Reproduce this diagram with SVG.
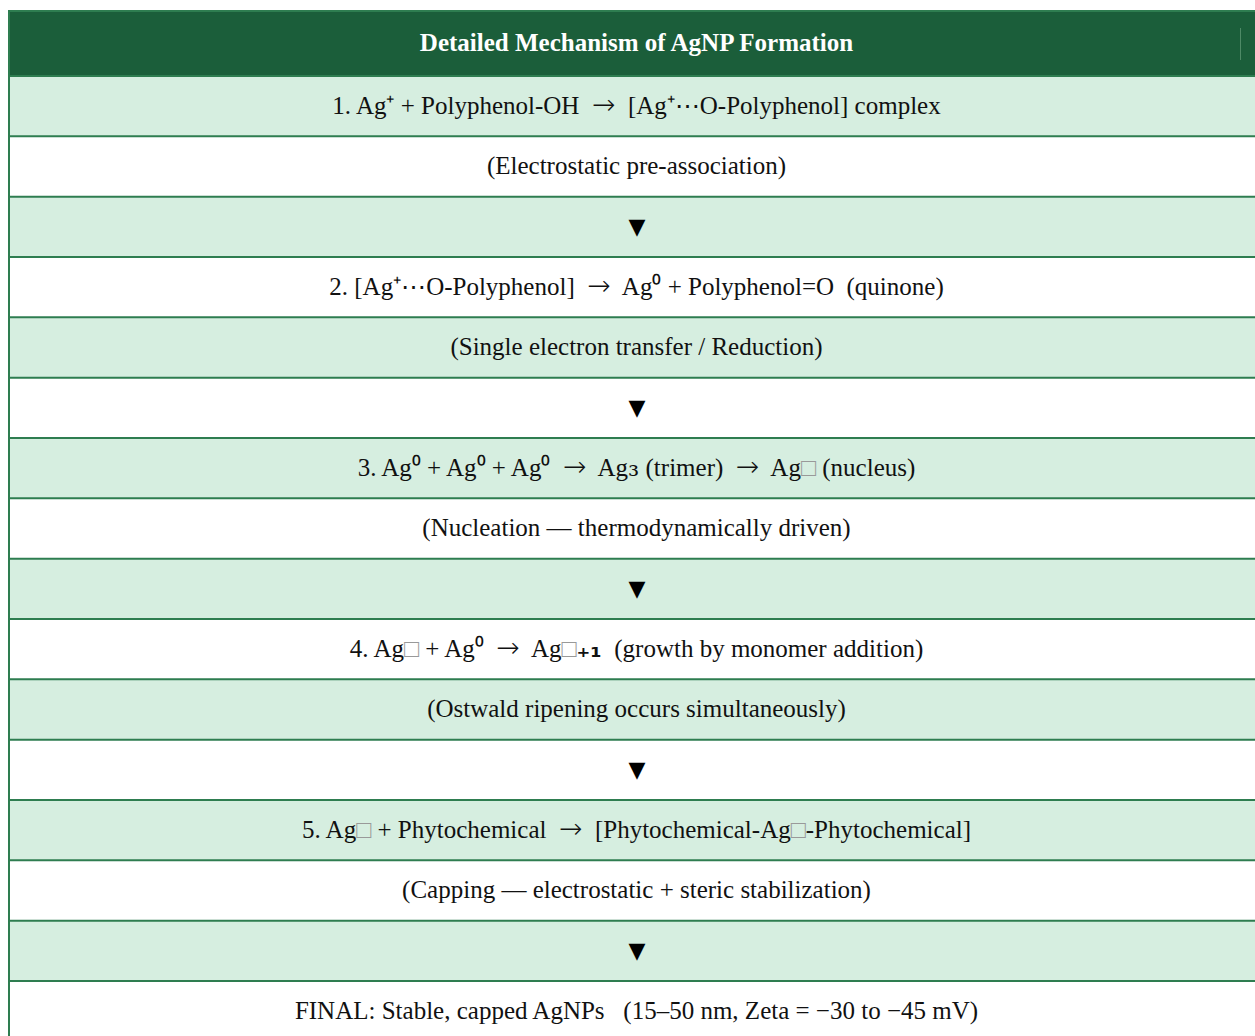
<svg xmlns="http://www.w3.org/2000/svg" width="1255" height="1036" viewBox="0 0 1255 1036">
<style>
.hdr{fill:#1B5E3A}
.g{fill:#D6EEE0}
.w{fill:#FFFFFF}
.ln{stroke:#2E7D50;stroke-width:2;fill:none}
.t{font-family:"Liberation Serif","Times New Roman",serif;font-size:25px;fill:#111;text-anchor:middle;white-space:pre}
.ht{font-family:"Liberation Serif","Times New Roman",serif;font-size:25px;font-weight:bold;fill:#FFFFFF;text-anchor:middle}
.tri{font-family:"DejaVu Sans",sans-serif;font-size:22px;fill:#000;text-anchor:middle}
.tofu{fill:#999}
.ar{font-family:"DejaVu Sans",sans-serif;font-size:28px;font-weight:300}
.sub{font-family:"DejaVu Serif",serif;font-size:28px}
.subb{font-family:"DejaVu Sans",sans-serif;font-size:26px;font-weight:bold}
</style>
<rect x="0" y="0" width="1255" height="1036" fill="#FFFFFF"/>
<g id="header">
<rect class="hdr" x="9" y="11" width="1246" height="65"/>
<line x1="1240.5" y1="28" x2="1240.5" y2="60" stroke="#4E8A66" stroke-width="1"/>
<text class="ht" x="636.5" y="51">Detailed Mechanism of AgNP Formation</text>
</g>
<g id="row1">
<rect class="g" x="9" y="76" width="1246" height="60.3"/>
<text class="t" x="636.5" y="114">1. Ag⁺ + Polyphenol-OH  <tspan class="ar">→</tspan>  [Ag⁺⋯O-Polyphenol] complex</text>
</g>
<g id="row2">
<rect class="w" x="9" y="136.3" width="1246" height="60.3"/>
<text class="t" x="636.5" y="174">(Electrostatic pre-association)</text>
</g>
<g id="row3">
<rect class="g" x="9" y="196.7" width="1246" height="60.3"/>
<text class="tri" x="637" y="234">▼</text>
</g>
<g id="row4">
<rect class="w" x="9" y="257" width="1246" height="60.3"/>
<text class="t" x="636.5" y="294.5">2. [Ag⁺⋯O-Polyphenol]  <tspan class="ar">→</tspan>  Ag⁰ + Polyphenol=O  (quinone)</text>
</g>
<g id="row5">
<rect class="g" x="9" y="317.3" width="1246" height="60.3"/>
<text class="t" x="636.5" y="355">(Single electron transfer / Reduction)</text>
</g>
<g id="row6">
<rect class="w" x="9" y="377.7" width="1246" height="60.3"/>
<text class="tri" x="637" y="415">▼</text>
</g>
<g id="row7">
<rect class="g" x="9" y="438" width="1246" height="60.3"/>
<text class="t" x="636.5" y="475.5">3. Ag⁰ + Ag⁰ + Ag⁰  <tspan class="ar">→</tspan>  Ag<tspan class="sub">₃</tspan> (trimer)  <tspan class="ar">→</tspan>  Ag<tspan class="tofu">□</tspan> (nucleus)</text>
</g>
<g id="row8">
<rect class="w" x="9" y="498.3" width="1246" height="60.3"/>
<text class="t" x="636.5" y="536">(Nucleation — thermodynamically driven)</text>
</g>
<g id="row9">
<rect class="g" x="9" y="558.7" width="1246" height="60.3"/>
<text class="tri" x="637" y="596">▼</text>
</g>
<g id="row10">
<rect class="w" x="9" y="619" width="1246" height="60.3"/>
<text class="t" x="636.5" y="656.5">4. Ag<tspan class="tofu">□</tspan> + Ag⁰  <tspan class="ar">→</tspan>  Ag<tspan class="tofu">□</tspan><tspan class="subb">₊₁</tspan>  (growth by monomer addition)</text>
</g>
<g id="row11">
<rect class="g" x="9" y="679.3" width="1246" height="60.3"/>
<text class="t" x="636.5" y="717">(Ostwald ripening occurs simultaneously)</text>
</g>
<g id="row12">
<rect class="w" x="9" y="739.7" width="1246" height="60.3"/>
<text class="tri" x="637" y="777">▼</text>
</g>
<g id="row13">
<rect class="g" x="9" y="800" width="1246" height="60.3"/>
<text class="t" x="636.5" y="837.5">5. Ag<tspan class="tofu">□</tspan> + Phytochemical  <tspan class="ar">→</tspan>  [Phytochemical-Ag<tspan class="tofu">□</tspan>-Phytochemical]</text>
</g>
<g id="row14">
<rect class="w" x="9" y="860.3" width="1246" height="60.3"/>
<text class="t" x="636.5" y="898">(Capping — electrostatic + steric stabilization)</text>
</g>
<g id="row15">
<rect class="g" x="9" y="920.7" width="1246" height="60.3"/>
<text class="tri" x="637" y="958">▼</text>
</g>
<g id="row16">
<rect class="w" x="9" y="981" width="1246" height="60"/>
<text class="t" x="636.5" y="1018.5">FINAL: Stable, capped AgNPs   (15–50 nm, Zeta = −30 to −45 mV)</text>
</g>
<g id="grid">
<line class="ln" x1="8" y1="11" x2="1255" y2="11"/>
<line class="ln" x1="8" y1="76" x2="1255" y2="76"/>
<line class="ln" x1="8" y1="136.3" x2="1255" y2="136.3"/>
<line class="ln" x1="8" y1="196.7" x2="1255" y2="196.7"/>
<line class="ln" x1="8" y1="257" x2="1255" y2="257"/>
<line class="ln" x1="8" y1="317.3" x2="1255" y2="317.3"/>
<line class="ln" x1="8" y1="377.7" x2="1255" y2="377.7"/>
<line class="ln" x1="8" y1="438" x2="1255" y2="438"/>
<line class="ln" x1="8" y1="498.3" x2="1255" y2="498.3"/>
<line class="ln" x1="8" y1="558.7" x2="1255" y2="558.7"/>
<line class="ln" x1="8" y1="619" x2="1255" y2="619"/>
<line class="ln" x1="8" y1="679.3" x2="1255" y2="679.3"/>
<line class="ln" x1="8" y1="739.7" x2="1255" y2="739.7"/>
<line class="ln" x1="8" y1="800" x2="1255" y2="800"/>
<line class="ln" x1="8" y1="860.3" x2="1255" y2="860.3"/>
<line class="ln" x1="8" y1="920.7" x2="1255" y2="920.7"/>
<line class="ln" x1="8" y1="981" x2="1255" y2="981"/>
<line class="ln" x1="9" y1="10" x2="9" y2="1036"/>
</g>
<g id="connectors"/>
</svg>
